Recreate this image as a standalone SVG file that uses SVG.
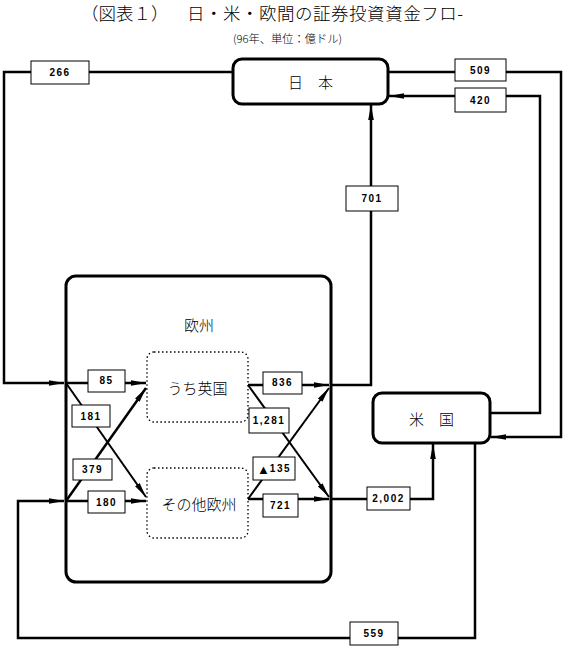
<svg xmlns="http://www.w3.org/2000/svg" width="568" height="651" viewBox="0 0 568 651">
<style>
.node{fill:#fff;stroke:#000;stroke-width:3}
.sub{fill:none;stroke:#000;stroke-width:1.3;stroke-dasharray:1.5 2.5}
.ln{fill:none;stroke:#000;stroke-width:2.5}
.thin{fill:none;stroke:#000;stroke-width:2}
.lbl{fill:#fff;stroke:#000;stroke-width:1}
.lt{font-family:"Liberation Sans",Arial,sans-serif;font-weight:bold;font-size:10px;letter-spacing:1.5px;text-anchor:middle;dominant-baseline:central}
.nt{font-family:"Noto Sans CJK JP",sans-serif;font-size:15px;text-anchor:middle;dominant-baseline:central;font-weight:300}
.tt{font-family:"Noto Sans CJK JP",sans-serif;font-weight:300}
</style>
<defs>
<marker id="ah" markerUnits="userSpaceOnUse" markerWidth="16" markerHeight="8" refX="15" refY="4" orient="auto">
<path d="M0,1.2 L15,4 L0,6.8 Z" fill="#000"/>
</marker>
</defs>
<rect width="568" height="651" fill="#fff"/>
<text class="tt" x="81" y="20" font-size="17.5">（図表１）</text>
<text class="tt" x="187" y="20" font-size="17.5" textLength="276" lengthAdjust="spacing">日・米・欧間の証券投資資金フロ-</text>
<text class="tt" x="233" y="43" font-size="11" textLength="109" lengthAdjust="spacingAndGlyphs">(96年、単位：億ドル)</text>

<g id="connectors">
<polyline class="ln" points="233,72 4,72 4,383 64,383" marker-end="url(#ah)"/>
<polyline class="ln" points="388,72 561,72 561,437 491,437" marker-end="url(#ah)"/>
<polyline class="ln" points="490,413 540,413 540,96 389,96" marker-end="url(#ah)"/>
<polyline class="ln" points="331,385 371,385 371,105" marker-end="url(#ah)"/>
<polyline class="ln" points="331,499 433,499 433,444" marker-end="url(#ah)"/>
<polyline class="ln" points="475,443 475,638 18,638 18,501 64,501" marker-end="url(#ah)"/>
<line class="ln" x1="66" y1="383" x2="146" y2="383" marker-end="url(#ah)"/>
<line class="thin" x1="66" y1="383" x2="146" y2="497" marker-end="url(#ah)"/>
<line class="ln" x1="66" y1="501" x2="146" y2="388" marker-end="url(#ah)"/>
<line class="ln" x1="66" y1="501" x2="146" y2="501" marker-end="url(#ah)"/>
<line class="ln" x1="248" y1="385" x2="329" y2="385" marker-end="url(#ah)"/>
<line class="thin" x1="248" y1="385" x2="329" y2="497" marker-end="url(#ah)"/>
<line class="thin" x1="248" y1="499" x2="329" y2="388" marker-end="url(#ah)"/>
<line class="ln" x1="248" y1="499" x2="329" y2="499" marker-end="url(#ah)"/>
<g id="labels">
<rect class="lbl" x="31" y="61" width="58" height="23"/><text class="lt" x="60" y="72.5">266</text>
<rect class="lbl" x="455" y="59" width="51" height="22"/><text class="lt" x="480.5" y="70">509</text>
<rect class="lbl" x="455" y="88" width="51" height="24"/><text class="lt" x="480.5" y="100">420</text>
<rect class="lbl" x="346" y="186" width="52" height="25"/><text class="lt" x="372" y="198.5">701</text>
<rect class="lbl" x="88" y="370" width="37" height="22"/><text class="lt" x="106.5" y="380">85</text>
<rect class="lbl" x="72" y="405" width="38" height="22"/><text class="lt" x="91" y="416">181</text>
<rect class="lbl" x="73" y="459" width="39" height="21"/><text class="lt" x="92.5" y="469.5">379</text>
<rect class="lbl" x="88" y="491" width="37" height="22"/><text class="lt" x="106.5" y="502">180</text>
<rect class="lbl" x="263" y="372" width="39" height="22"/><text class="lt" x="282.5" y="382">836</text>
<rect class="lbl" x="249" y="408" width="40" height="25"/><text class="lt" x="269" y="420.5">1,281</text>
<rect class="lbl" x="253" y="457" width="42" height="23"/><text class="lt" x="274" y="468.5"><tspan font-size="13px" letter-spacing="0">▲</tspan>135</text>
<rect class="lbl" x="263" y="494" width="35" height="23"/><text class="lt" x="280.5" y="505.5">721</text>
<rect class="lbl" x="367" y="487" width="43" height="23"/><text class="lt" x="388.5" y="498.5">2,002</text>
<rect class="lbl" x="350" y="622" width="48" height="23"/><text class="lt" x="374" y="633.5">559</text>
</g>
</g>

<g id="japan">
<rect class="node" x="233" y="59" width="155" height="45" rx="9"/>
<text class="nt" x="310.5" y="81.5">日　本</text>
</g>
<g id="europe">
<rect fill="none" stroke="#000" stroke-width="3" x="66" y="276" width="265" height="306" rx="10"/>
<text class="nt" x="199" y="324">欧州</text>
</g>
<g id="uk">
<rect class="sub" x="147" y="352" width="101" height="70" rx="7"/>
<text class="nt" x="197.5" y="387">うち英国</text>
</g>
<g id="other-europe">
<rect class="sub" x="147" y="468" width="101" height="70" rx="7"/>
<text class="nt" x="199" y="503">その他欧州</text>
</g>
<g id="us">
<rect class="node" x="373" y="393" width="117" height="50" rx="9"/>
<text class="nt" x="431.5" y="418">米　国</text>
</g>
</svg>
